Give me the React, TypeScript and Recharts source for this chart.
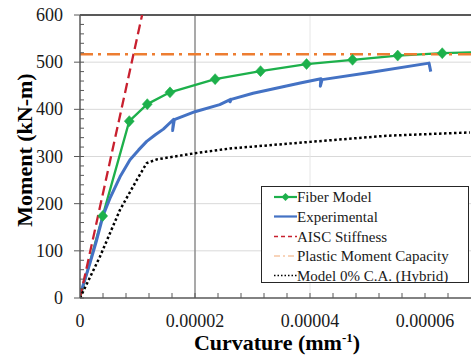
import { LineChart, Line, XAxis, YAxis, ReferenceLine, Legend } from "recharts";

const FONT = "Liberation Serif, serif";

// Fiber model (green, diamond markers)
const fiberCurv = [0, 0.00000395, 0.00000857, 0.0000117, 0.00001565, 0.0000235, 0.0000314, 0.0000394, 0.0000474, 0.00005525, 0.000063, 0.0000708];
const fiberMoment = [0, 174, 375, 411, 436, 464, 481, 496, 505, 514, 519, 522];

// Experimental curve, with the small unloading hooks
const expCurv = [0.0000001, 0.00000174, 0.0000029, 0.00000405, 0.0000052, 0.00000696, 0.0000087, 0.0000102, 0.0000116, 0.0000131, 0.0000145, 0.0000163, 0.0000161, 0.0000164, 0.00002, 0.0000243, 0.0000262, 0.0000261, 0.0000263, 0.0000301, 0.0000383, 0.0000419, 0.0000418, 0.0000421, 0.0000504, 0.0000607, 0.000061];
const expMoment = [10, 74, 123, 176, 211, 257, 293, 314, 332, 346, 358, 379, 355, 378, 395, 410, 421, 416, 421, 434, 456, 465, 449, 463, 478, 498, 480];

// AISC elastic stiffness
const aiscCurv = [0, 0.0000108];
const aiscMoment = [0, 600];

// Plastic moment capacity
const plasticCurv = [0, 0.00007];
const plasticMoment = [517, 517];

// Model 0% C.A. (Hybrid)
const hybridCurv = [0, 0.00000348, 0.00000696, 0.00000986, 0.0000116, 0.0000134, 0.00002, 0.0000261, 0.00004, 0.0000533, 0.0000678];
const hybridMoment = [0, 88, 187, 250, 286, 294, 307, 317, 331, 344, 351];

const xTicks = [0, 0.000004, 0.000008, 0.000012, 0.000016, 0.00002, 0.000024, 0.000028, 0.000032, 0.000036, 0.00004, 0.000044, 0.000048, 0.000052, 0.000056, 0.00006, 0.000064];
const xTickLabels = ["0", "", "", "", "", "0.00002", "", "", "", "", "0.00004", "", "", "", "", "0.00006", ""];
const yTicks = [0, 20, 40, 60, 80, 100, 120, 140, 160, 180, 200, 220, 240, 260, 280, 300, 320, 340, 360, 380, 400, 420, 440, 460, 480, 500, 520, 540, 560, 580, 600];
const gridValues = [100, 200, 300, 400, 500];

const zip = (k: number[], m: number[]) => k.map((v, i) => ({ k: v, m: m[i] }));

const series = [
  { name: "Fiber Model", data: zip(fiberCurv, fiberMoment), color: "#1DB04B", width: 2.3, dash: undefined as string | undefined, markers: true },
  { name: "Experimental", data: zip(expCurv, expMoment), color: "#4472C4", width: 3, dash: undefined, markers: false },
  { name: "AISC Stiffness", data: zip(aiscCurv, aiscMoment), color: "#C8202F", width: 2.3, dash: "10 5", markers: false },
  { name: "Plastic Moment Capacity", data: zip(plasticCurv, plasticMoment), color: "#ED7D31", width: 2.5, dash: "13 5 3 6", markers: false },
  { name: "Model 0% C.A. (Hybrid)", data: zip(hybridCurv, hybridMoment), color: "#000000", width: 2.5, dash: "2.5 2.5", markers: false },
];

const textStyle = { fontFamily: FONT };

const Diamond = (props: any) => {
  const { cx, cy, index, stroke } = props;
  if (index === 0 || cx == null) return <g key={`d${index}`} />;
  return (
    <path
      key={`d${index}`}
      d={`M${cx},${cy - 5.5} L${cx + 5},${cy} L${cx},${cy + 5.5} L${cx - 5},${cy} Z`}
      fill={stroke}
      stroke={stroke}
      strokeWidth={0.5}
    />
  );
};

const XTick = (props: any) => {
  const { x, y, index } = props;
  const label = xTickLabels[index];
  return (
    <g>
      {index > 0 && <line x1={x} x2={x} y1={y} y2={y - 5} stroke="#595959" strokeWidth={1} />}
      {label && (
        <text x={x} y={y + 29} textAnchor="middle" style={textStyle} fontSize={18} fill="#1a1a1a">
          {label}
        </text>
      )}
    </g>
  );
};

const YTick = (props: any) => {
  const { x, y, payload } = props;
  const major = payload.value % 100 === 0;
  return (
    <g>
      <line x1={major ? x - 6 : x} x2={x + 4} y1={y} y2={y} stroke="#595959" strokeWidth={1} />
      {major && (
        <text x={x - 17} y={y + 6} textAnchor="end" style={textStyle} fontSize={18} fill="#1a1a1a">
          {payload.value}
        </text>
      )}
    </g>
  );
};

const XTitle = () => (
  <text x={277} y={350} textAnchor="middle" style={textStyle} fontSize={22} fontWeight="bold" fill="#000">
    Curvature (mm
    <tspan fontSize={13} dy={-8}>-1</tspan>
    <tspan dy={8}>)</tspan>
  </text>
);

const YTitle = () => (
  <text
    x={24}
    y={150}
    transform="rotate(-90, 24, 150)"
    textAnchor="middle"
    dominantBaseline="central"
    style={textStyle}
    fontSize={22}
    fontWeight="bold"
    fill="#000"
  >
    Moment (kN-m)
  </text>
);

const LegendBox = () => {
  const rows = [11, 30.5, 50.5, 70, 89.5];
  return (
    <svg width={208} height={97} style={{ display: "block" }}>
      <rect x={0.5} y={0.5} width={207} height={96} fill="#fff" stroke="#262626" strokeWidth={1} />
      {series.map((s, i) => {
        const y = rows[i];
        let iconColor = s.color;
        let dash = s.dash;
        if (s.name === "Plastic Moment Capacity") {
          iconColor = "#F6C6A4";
          dash = "6 3 2 3";
        }
        if (s.name === "AISC Stiffness") dash = "4 3";
        if (s.name === "Model 0% C.A. (Hybrid)") dash = "1.5 2";
        return (
          <g key={s.name}>
            <line x1={13} x2={36} y1={y} y2={y} stroke={iconColor} strokeWidth={s.markers || s.name === "Experimental" ? 2.2 : 1.5} strokeDasharray={dash} />
            {s.markers && <path d={`M24.5,${y - 4} L28.5,${y} L24.5,${y + 4} L20.5,${y} Z`} fill={s.color} />}
            <text x={36} y={y + 5} style={textStyle} fontSize={15} fill="#1a1a1a">
              {s.name}
            </text>
          </g>
        );
      })}
    </svg>
  );
};

export default function App() {
  return (
    <div style={{ position: "absolute", left: 0, top: 0, background: "#fff", fontFamily: FONT }}>
      <LineChart width={471} height={358} margin={{ top: 15, right: 0, bottom: 0, left: 20 }} style={textStyle}>
        {gridValues.map((v) => (
          <ReferenceLine key={v} y={v} stroke="#d9d9d9" strokeWidth={1} />
        ))}
        <ReferenceLine x={0.00004} stroke="#e6e6e6" strokeWidth={1} />
        <ReferenceLine x={0.00002} stroke="#8c8c8c" strokeWidth={1.5} />
        <ReferenceLine y={600} stroke="#595959" strokeWidth={2} />
        <XAxis
          type="number"
          dataKey="k"
          domain={[0, 0.000068]}
          allowDataOverflow
          ticks={xTicks}
          interval={0}
          height={60}
          tickSize={0}
          tickMargin={0}
          tickLine={false}
          axisLine={{ stroke: "#595959", strokeWidth: 1.5 }}
          tick={<XTick />}
          label={<XTitle />}
        />
        <YAxis
          type="number"
          dataKey="m"
          domain={[0, 600]}
          allowDataOverflow
          ticks={yTicks}
          interval={0}
          width={60}
          tickSize={0}
          tickMargin={0}
          tickLine={false}
          axisLine={{ stroke: "#595959", strokeWidth: 1.5 }}
          tick={<YTick />}
          label={<YTitle />}
        />
        {series.map((s) => (
          <Line
            key={s.name}
            name={s.name}
            data={s.data}
            dataKey="m"
            type="linear"
            stroke={s.color}
            strokeWidth={s.width}
            strokeDasharray={s.dash}
            strokeLinejoin="round"
            dot={s.markers ? Diamond : false}
            activeDot={false}
            isAnimationActive={false}
          />
        ))}
        <Legend
          layout="vertical"
          align="center"
          verticalAlign="middle"
          content={<LegendBox />}
          wrapperStyle={{ position: "absolute", left: 261, top: 186, width: 208, height: 97 }}
        />
      </LineChart>
    </div>
  );
}
